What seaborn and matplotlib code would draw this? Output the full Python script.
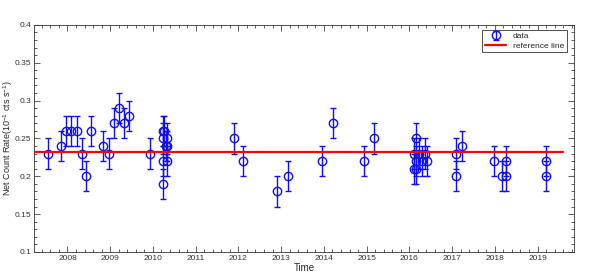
import matplotlib
matplotlib.use("Agg")
import matplotlib.pyplot as plt
import numpy as np
import pandas as pd
import seaborn as sns
from matplotlib.ticker import MultipleLocator

# observation epochs (decimal years), net count rates and 1-sigma errors
years = [2007.54, 2007.85, 2007.97, 2008.08, 2008.22, 2008.33, 2008.44, 2008.56,
         2008.84, 2008.98, 2009.10, 2009.21, 2009.33, 2009.45, 2009.92,
         2010.24, 2010.24, 2010.24, 2010.24, 2010.27, 2010.31, 2010.33, 2010.33, 2010.33,
         2011.89, 2012.11, 2012.90, 2013.15, 2013.96, 2014.21, 2014.93, 2015.17,
         2016.10, 2016.10, 2016.16, 2016.16, 2016.16, 2016.23, 2016.29, 2016.36, 2016.41,
         2017.09, 2017.09, 2017.24, 2017.97, 2018.18, 2018.27, 2018.27, 2019.21, 2019.21]
rates = [0.23, 0.24, 0.26, 0.26, 0.26, 0.23, 0.20, 0.26,
         0.24, 0.23, 0.27, 0.29, 0.27, 0.28, 0.23,
         0.26, 0.25, 0.22, 0.19, 0.26, 0.24, 0.25, 0.24, 0.22,
         0.25, 0.22, 0.18, 0.20, 0.22, 0.27, 0.22, 0.25,
         0.23, 0.21, 0.25, 0.22, 0.21, 0.23, 0.22, 0.23, 0.22,
         0.23, 0.20, 0.24, 0.22, 0.20, 0.20, 0.22, 0.22, 0.20]
errors = [0.02] * len(rates)

ref_value = 0.232
ref_span = [2007.0, 2019.6]

df = pd.DataFrame({"year": years, "rate": rates, "err": errors})
ref = pd.DataFrame({"year": ref_span, "rate": [ref_value, ref_value]})

sns.set_style("ticks")
plt.rcParams["font.family"] = ["Liberation Sans", "DejaVu Sans"]
plt.rcParams["mathtext.fontset"] = "custom"
plt.rcParams["mathtext.rm"] = "Liberation Sans"
plt.rcParams["mathtext.it"] = "Liberation Sans"

fig = plt.figure(figsize=(5.99, 2.80), dpi=100)
ax = fig.add_axes([0.057, 0.10, 0.901, 0.811])

ax.errorbar(df["year"], df["rate"], yerr=df["err"], fmt="o", color="#1010ee",
            mfc="none", mec="#1010ee", ms=6, mew=1.0, elinewidth=1.0,
            capsize=2, capthick=1.0, label="data", zorder=3)
sns.lineplot(data=ref, x="year", y="rate", color="red", linewidth=1.6,
             label="reference line", ax=ax, zorder=4)

ax.set_xlim(2007.22, 2019.85)
ax.set_ylim(0.1, 0.4)
ax.xaxis.set_minor_locator(MultipleLocator(0.2))
ax.yaxis.set_minor_locator(MultipleLocator(0.01))
ax.set_xticks(range(2008, 2020))
ax.set_xticklabels([str(y) for y in range(2008, 2020)])
ax.set_yticks([0.1, 0.15, 0.2, 0.25, 0.3, 0.35, 0.4])
ax.set_yticklabels(["0.1", "0.15", "0.2", "0.25", "0.3", "0.35", "0.4"])
ax.tick_params(which="both", direction="in", top=True, right=True,
               labelsize=6, labelcolor="#333333", color="#444444", width=0.6, pad=2)
ax.tick_params(which="major", length=4)
ax.tick_params(which="minor", length=2)
for s in ax.spines.values():
    s.set_linewidth(0.6)
    s.set_color("#333333")

ax.set_xlabel("Time", fontsize=7, labelpad=1)
ax.set_ylabel("Net Count Rate(10$^{-1}$ cts s$^{-1}$)", fontsize=6.5)
ax.yaxis.set_label_coords(-0.035, 0.5)

handles, labels = ax.get_legend_handles_labels()
order = [labels.index("data"), labels.index("reference line")]
leg = ax.legend([handles[i] for i in order], [labels[i] for i in order],
                loc="upper right", bbox_to_anchor=(0.99, 0.985), fontsize=6,
                frameon=True, fancybox=False, edgecolor="#333333", framealpha=1,
                borderpad=0.3, handlelength=2.6, labelspacing=0.2, borderaxespad=0.2)
leg.get_frame().set_linewidth(0.6)

fig.savefig("out.png", dpi=100)
